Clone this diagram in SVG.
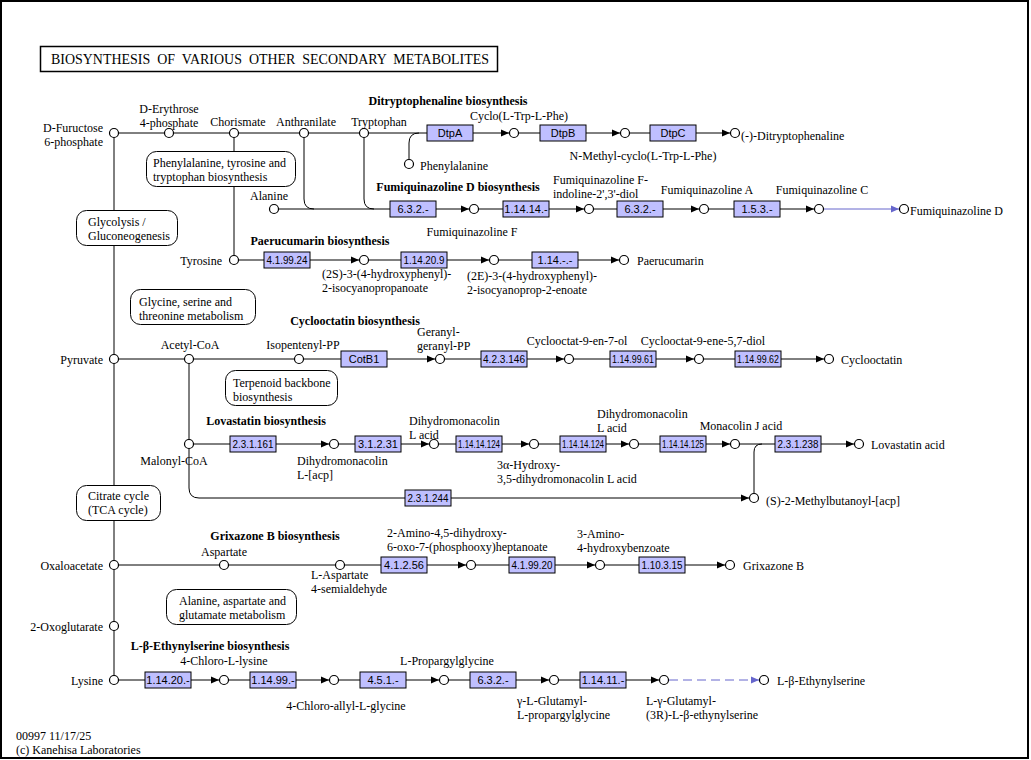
<svg xmlns="http://www.w3.org/2000/svg" width="1031" height="760" viewBox="0 0 1031 760">
<style>
.t{font-family:"Liberation Serif",serif;font-size:12px;fill:#000}
.b{font-family:"Liberation Serif",serif;font-size:12px;font-weight:bold;fill:#000}
.m{text-anchor:middle}
.r{text-anchor:end}
.ec{font-family:"Liberation Sans",Arial,sans-serif;font-size:11px;text-anchor:middle;fill:#000}
.e{fill:#bfbfff;stroke:#000;stroke-width:1}
.c{fill:#fff;stroke:#000;stroke-width:1.2}
.mp{fill:#fff;stroke:#000;stroke-width:1}
.ln{fill:none;stroke:#000;stroke-width:1}
.bl{fill:none;stroke:#6666cc;stroke-width:1}
.da{stroke-dasharray:9,5}
</style>
<defs>
<marker id="ar" markerUnits="userSpaceOnUse" markerWidth="8" markerHeight="8" refX="8" refY="4" orient="auto"><path d="M0,0.5 L8,4 L0,7.5 z" fill="#000"/></marker>
<marker id="ab" markerUnits="userSpaceOnUse" markerWidth="8" markerHeight="8" refX="8" refY="4" orient="auto"><path d="M0,0.5 L8,4 L0,7.5 z" fill="#6666cc"/></marker>
</defs>
<rect x="1" y="1" width="1027" height="757" fill="#fff" stroke="#000" stroke-width="2"/>
<g id="title"><rect x="40.5" y="46.5" width="457" height="25" fill="#fff" stroke="#000" stroke-width="1.5"/><text x="270" y="64" font-family="Liberation Serif,serif" font-size="14" text-anchor="middle" xml:space="preserve" style="white-space:pre" textLength="438" lengthAdjust="spacingAndGlyphs">BIOSYNTHESIS  OF  VARIOUS  OTHER  SECONDARY  METABOLITES</text></g>

<g id="connectors">
<path class="ln" d="M114,133 V680"/>
<path class="ln" d="M114,133 H427"/>
<path class="ln" marker-end="url(#ar)" d="M473,133 H509"/>
<path class="ln" d="M519,133 H540"/>
<path class="ln" marker-end="url(#ar)" d="M586,133 H620"/>
<path class="ln" d="M630,133 H650"/>
<path class="ln" marker-end="url(#ar)" d="M696,133 H730"/>
<path class="ln" d="M409,159 V143 Q409,133 419,133"/>
<path class="ln" d="M234,133 V256"/>
<path class="ln" d="M304,133 V199 Q304,209 314,209"/>
<path class="ln" d="M364,133 V199 Q364,209 374,209"/>
<path class="ln" d="M279,209 H390"/>
<path class="ln" marker-end="url(#ar)" d="M436,209 H469"/>
<path class="ln" d="M479,209 H503"/>
<path class="ln" marker-end="url(#ar)" d="M549,209 H584"/>
<path class="ln" d="M594,209 H617"/>
<path class="ln" marker-end="url(#ar)" d="M663,209 H699"/>
<path class="ln" d="M709,209 H734"/>
<path class="ln" marker-end="url(#ar)" d="M780,209 H814"/>
<path class="bl" marker-end="url(#ab)" d="M824,209 H899"/>
<path class="ln" d="M239,260 H264"/>
<path class="ln" marker-end="url(#ar)" d="M310,260 H359"/>
<path class="ln" d="M369,260 H401"/>
<path class="ln" marker-end="url(#ar)" d="M447,260 H489"/>
<path class="ln" d="M499,260 H532"/>
<path class="ln" marker-end="url(#ar)" d="M578,260 H619"/>
<path class="ln" d="M114,359 H341"/>
<path class="ln" marker-end="url(#ar)" d="M387,359 H435"/>
<path class="ln" d="M445,359 H481"/>
<path class="ln" marker-end="url(#ar)" d="M527,359 H564"/>
<path class="ln" d="M574,359 H610"/>
<path class="ln" marker-end="url(#ar)" d="M656,359 H694"/>
<path class="ln" d="M704,359 H735"/>
<path class="ln" marker-end="url(#ar)" d="M781,359 H824"/>
<path class="ln" marker-end="url(#ar)" d="M189,359 V488 Q189,498 199,498 H749"/>
<path class="ln" d="M189,444 H230"/>
<path class="ln" marker-end="url(#ar)" d="M276,444 H329"/>
<path class="ln" d="M339,444 H355"/>
<path class="ln" marker-end="url(#ar)" d="M401,444 H429"/>
<path class="ln" d="M439,444 H456"/>
<path class="ln" marker-end="url(#ar)" d="M502,444 H529"/>
<path class="ln" d="M539,444 H560"/>
<path class="ln" marker-end="url(#ar)" d="M606,444 H629"/>
<path class="ln" d="M639,444 H660"/>
<path class="ln" marker-end="url(#ar)" d="M706,444 H730"/>
<path class="ln" d="M740,444 H775"/>
<path class="ln" marker-end="url(#ar)" d="M821,444 H854"/>
<path class="ln" d="M754,493 V452 Q754,444 762,444"/>
<path class="ln" d="M114,565 H381"/>
<path class="ln" marker-end="url(#ar)" d="M427,565 H466"/>
<path class="ln" d="M476,565 H509"/>
<path class="ln" marker-end="url(#ar)" d="M555,565 H595"/>
<path class="ln" d="M605,565 H639"/>
<path class="ln" marker-end="url(#ar)" d="M685,565 H725"/>
<path class="ln" d="M114,680 H145"/>
<path class="ln" marker-end="url(#ar)" d="M191,680 H219"/>
<path class="ln" d="M229,680 H250"/>
<path class="ln" marker-end="url(#ar)" d="M296,680 H329"/>
<path class="ln" d="M339,680 H360"/>
<path class="ln" marker-end="url(#ar)" d="M406,680 H439"/>
<path class="ln" d="M449,680 H470"/>
<path class="ln" marker-end="url(#ar)" d="M516,680 H549"/>
<path class="ln" d="M559,680 H580"/>
<path class="ln" marker-end="url(#ar)" d="M626,680 H659"/>
<path class="bl da" marker-end="url(#ab)" d="M669,680 H759"/>
</g>

<g id="pathway-maps">
<g id="map-phe"><rect class="mp" x="146.5" y="151.5" width="149" height="35" rx="10"/><text class="t" x="153" y="167">Phenylalanine, tyrosine and<tspan x="153" dy="13.5">tryptophan biosynthesis</tspan></text></g>
<g id="map-gly"><rect class="mp" x="76.5" y="210.5" width="101" height="35" rx="10"/><text class="t" x="88" y="226">Glycolysis /<tspan x="88" dy="13.5">Gluconeogenesis</tspan></text></g>
<g id="map-gst"><rect class="mp" x="130.5" y="289.5" width="125" height="35" rx="10"/><text class="t" x="139" y="306">Glycine, serine and<tspan x="139" dy="13.5">threonine metabolism</tspan></text></g>
<g id="map-terp"><rect class="mp" x="225.5" y="370.5" width="112" height="35" rx="10"/><text class="t" x="233" y="387">Terpenoid backbone<tspan x="233" dy="13.5">biosynthesis</tspan></text></g>
<g id="map-tca"><rect class="mp" x="76.5" y="485.5" width="84" height="35" rx="10"/><text class="t" x="88" y="500">Citrate cycle<tspan x="88" dy="13.5">(TCA cycle)</tspan></text></g>
<g id="map-ala"><rect class="mp" x="166.5" y="589.5" width="130" height="35" rx="10"/><text class="t" x="179" y="605">Alanine, aspartate and<tspan x="179" dy="13.5">glutamate metabolism</tspan></text></g>
</g>

<g id="section-titles">
<text class="b m" x="448" y="105">Ditryptophenaline biosynthesis</text>
<text class="b m" x="458" y="191">Fumiquinazoline D biosynthesis</text>
<text class="b m" x="320" y="245">Paerucumarin biosynthesis</text>
<text class="b m" x="355" y="325">Cyclooctatin biosynthesis</text>
<text class="b m" x="266" y="425">Lovastatin biosynthesis</text>
<text class="b m" x="275" y="540">Grixazone B biosynthesis</text>
<text class="b m" x="210" y="650">L-β-Ethynylserine biosynthesis</text>
</g>

<g id="enzymes">
<g id="e-DtpA"><rect class="e" x="427" y="125" width="46" height="16"/><text class="ec" x="450" y="137">DtpA</text></g>
<g id="e-DtpB"><rect class="e" x="540" y="125" width="46" height="16"/><text class="ec" x="563" y="137">DtpB</text></g>
<g id="e-DtpC"><rect class="e" x="650" y="125" width="46" height="16"/><text class="ec" x="673" y="137">DtpC</text></g>
<g id="e-6.3.2.-a"><rect class="e" x="390" y="201" width="46" height="16"/><text class="ec" x="413" y="213">6.3.2.-</text></g>
<g id="e-1.14.14.-"><rect class="e" x="503" y="201" width="46" height="16"/><text class="ec" x="526" y="213">1.14.14.-</text></g>
<g id="e-6.3.2.-b"><rect class="e" x="617" y="201" width="46" height="16"/><text class="ec" x="640" y="213">6.3.2.-</text></g>
<g id="e-1.5.3.-"><rect class="e" x="734" y="201" width="46" height="16"/><text class="ec" x="757" y="213">1.5.3.-</text></g>
<g id="e-4.1.99.24"><rect class="e" x="264" y="252" width="46" height="16"/><text class="ec" x="287" y="264" textLength="41" lengthAdjust="spacingAndGlyphs">4.1.99.24</text></g>
<g id="e-1.14.20.9"><rect class="e" x="401" y="252" width="46" height="16"/><text class="ec" x="424" y="264" textLength="41" lengthAdjust="spacingAndGlyphs">1.14.20.9</text></g>
<g id="e-1.14.-.-"><rect class="e" x="532" y="252" width="46" height="16"/><text class="ec" x="555" y="264">1.14.-.-</text></g>
<g id="e-CotB1"><rect class="e" x="341" y="351" width="46" height="16"/><text class="ec" x="364" y="363">CotB1</text></g>
<g id="e-4.2.3.146"><rect class="e" x="481" y="351" width="46" height="16"/><text class="ec" x="504" y="363" textLength="42" lengthAdjust="spacingAndGlyphs">4.2.3.146</text></g>
<g id="e-1.14.99.61"><rect class="e" x="610" y="351" width="46" height="16"/><text class="ec" x="633" y="363" textLength="42" lengthAdjust="spacingAndGlyphs">1.14.99.61</text></g>
<g id="e-1.14.99.62"><rect class="e" x="735" y="351" width="46" height="16"/><text class="ec" x="758" y="363" textLength="42" lengthAdjust="spacingAndGlyphs">1.14.99.62</text></g>
<g id="e-2.3.1.161"><rect class="e" x="230" y="436" width="46" height="16"/><text class="ec" x="253" y="448" textLength="41" lengthAdjust="spacingAndGlyphs">2.3.1.161</text></g>
<g id="e-3.1.2.31"><rect class="e" x="355" y="436" width="46" height="16"/><text class="ec" x="378" y="448">3.1.2.31</text></g>
<g id="e-1.14.14.124a"><rect class="e" x="456" y="436" width="46" height="16"/><text class="ec" x="479" y="448" textLength="42" lengthAdjust="spacingAndGlyphs">1.14.14.124</text></g>
<g id="e-1.14.14.124b"><rect class="e" x="560" y="436" width="46" height="16"/><text class="ec" x="583" y="448" textLength="42" lengthAdjust="spacingAndGlyphs">1.14.14.124</text></g>
<g id="e-1.14.14.125"><rect class="e" x="660" y="436" width="46" height="16"/><text class="ec" x="683" y="448" textLength="42" lengthAdjust="spacingAndGlyphs">1.14.14.125</text></g>
<g id="e-2.3.1.238"><rect class="e" x="775" y="436" width="46" height="16"/><text class="ec" x="798" y="448" textLength="41" lengthAdjust="spacingAndGlyphs">2.3.1.238</text></g>
<g id="e-2.3.1.244"><rect class="e" x="405" y="490" width="46" height="16"/><text class="ec" x="428" y="502" textLength="41" lengthAdjust="spacingAndGlyphs">2.3.1.244</text></g>
<g id="e-4.1.2.56"><rect class="e" x="381" y="557" width="46" height="16"/><text class="ec" x="404" y="569">4.1.2.56</text></g>
<g id="e-4.1.99.20"><rect class="e" x="509" y="557" width="46" height="16"/><text class="ec" x="532" y="569" textLength="41" lengthAdjust="spacingAndGlyphs">4.1.99.20</text></g>
<g id="e-1.10.3.15"><rect class="e" x="639" y="557" width="46" height="16"/><text class="ec" x="662" y="569" textLength="41" lengthAdjust="spacingAndGlyphs">1.10.3.15</text></g>
<g id="e-1.14.20.-"><rect class="e" x="145" y="672" width="46" height="16"/><text class="ec" x="168" y="684">1.14.20.-</text></g>
<g id="e-1.14.99.-"><rect class="e" x="250" y="672" width="46" height="16"/><text class="ec" x="273" y="684">1.14.99.-</text></g>
<g id="e-4.5.1.-"><rect class="e" x="360" y="672" width="46" height="16"/><text class="ec" x="383" y="684">4.5.1.-</text></g>
<g id="e-6.3.2.-c"><rect class="e" x="470" y="672" width="46" height="16"/><text class="ec" x="493" y="684">6.3.2.-</text></g>
<g id="e-1.14.11.-"><rect class="e" x="580" y="672" width="46" height="16"/><text class="ec" x="603" y="684">1.14.11.-</text></g>
</g>

<g id="compounds">
<g id="c-fru6p"><circle class="c" cx="114" cy="133" r="4.5"/><text class="t r" x="103" y="132">D-Fuructose<tspan x="103" dy="13.5">6-phosphate</tspan></text></g>
<g id="c-e4p"><circle class="c" cx="169" cy="133" r="4.5"/><text class="t m" x="169" y="113">D-Erythrose<tspan x="169" dy="13.5">4-phosphate</tspan></text></g>
<g id="c-chorismate"><circle class="c" cx="234" cy="133" r="4.5"/><text class="t m" x="238" y="126">Chorismate</text></g>
<g id="c-anthranilate"><circle class="c" cx="304" cy="133" r="4.5"/><text class="t m" x="306" y="126">Anthranilate</text></g>
<g id="c-tryptophan"><circle class="c" cx="364" cy="133" r="4.5"/><text class="t m" x="379" y="126">Tryptophan</text></g>
<g id="c-cyclo"><circle class="c" cx="514" cy="133" r="4.5"/><text class="t m" x="519" y="120">Cyclo(L-Trp-L-Phe)</text></g>
<g id="c-nmethyl"><circle class="c" cx="625" cy="133" r="4.5"/><text class="t m" x="643" y="160">N-Methyl-cyclo(L-Trp-L-Phe)</text></g>
<g id="c-ditryp"><circle class="c" cx="735" cy="133" r="4.5"/><text class="t" x="741" y="140">(-)-Ditryptophenaline</text></g>
<g id="c-phenylalanine"><circle class="c" cx="409" cy="164" r="4.5"/><text class="t" x="420" y="170">Phenylalanine</text></g>
<g id="c-alanine"><circle class="c" cx="274" cy="209" r="4.5"/><text class="t m" x="269" y="200">Alanine</text></g>
<g id="c-fumiF"><circle class="c" cx="474" cy="209" r="4.5"/><text class="t m" x="472" y="236">Fumiquinazoline F</text></g>
<g id="c-fumiFdiol"><circle class="c" cx="589" cy="209" r="4.5"/><text class="t" x="553" y="184">Fumiquinazoline F-<tspan x="553" dy="13.5">indoline-2',3'-diol</tspan></text></g>
<g id="c-fumiA"><circle class="c" cx="704" cy="209" r="4.5"/><text class="t m" x="707" y="194">Fumiquinazoline A</text></g>
<g id="c-fumiC"><circle class="c" cx="819" cy="209" r="4.5"/><text class="t m" x="822" y="194">Fumiquinazoline C</text></g>
<g id="c-fumiD"><circle class="c" cx="904" cy="209" r="4.5"/><text class="t" x="910" y="215">Fumiquinazoline D</text></g>
<g id="c-tyrosine"><circle class="c" cx="234" cy="260" r="4.5"/><text class="t r" x="222" y="265">Tyrosine</text></g>
<g id="c-2s"><circle class="c" cx="364" cy="260" r="4.5"/><text class="t" x="322" y="278">(2S)-3-(4-hydroxyphenyl)-<tspan x="322" dy="13.5">2-isocyanopropanoate</tspan></text></g>
<g id="c-2e"><circle class="c" cx="494" cy="260" r="4.5"/><text class="t" x="467" y="280">(2E)-3-(4-hydroxyphenyl)-<tspan x="467" dy="13.5">2-isocyanoprop-2-enoate</tspan></text></g>
<g id="c-paerucumarin"><circle class="c" cx="624" cy="260" r="4.5"/><text class="t" x="637" y="265">Paerucumarin</text></g>
<g id="c-pyruvate"><circle class="c" cx="114" cy="359" r="4.5"/><text class="t r" x="103" y="364">Pyruvate</text></g>
<g id="c-acetylcoa"><circle class="c" cx="189" cy="359" r="4.5"/><text class="t m" x="190" y="349">Acetyl-CoA</text></g>
<g id="c-ipp"><circle class="c" cx="299" cy="359" r="4.5"/><text class="t m" x="303" y="349">Isopentenyl-PP</text></g>
<g id="c-ggpp"><circle class="c" cx="440" cy="359" r="4.5"/><text class="t" x="417" y="336">Geranyl-<tspan x="417" dy="13.5">geranyl-PP</tspan></text></g>
<g id="c-cyc7ol"><circle class="c" cx="569" cy="359" r="4.5"/><text class="t m" x="577" y="345">Cyclooctat-9-en-7-ol</text></g>
<g id="c-cycdiol"><circle class="c" cx="699" cy="359" r="4.5"/><text class="t m" x="703" y="345">Cyclooctat-9-ene-5,7-diol</text></g>
<g id="c-cyclooctatin"><circle class="c" cx="829" cy="359" r="4.5"/><text class="t" x="841" y="364">Cyclooctatin</text></g>
<g id="c-malonylcoa"><circle class="c" cx="189" cy="444" r="4.5"/><text class="t m" x="174" y="465">Malonyl-CoA</text></g>
<g id="c-dhmlacp"><circle class="c" cx="334" cy="444" r="4.5"/><text class="t" x="297" y="465">Dihydromonacolin<tspan x="297" dy="13.5">L-[acp]</tspan></text></g>
<g id="c-dhmla1"><circle class="c" cx="434" cy="444" r="4.5"/><text class="t" x="409" y="425">Dihydromonacolin<tspan x="409" dy="13.5">L acid</tspan></text></g>
<g id="c-3ahydroxy"><circle class="c" cx="534" cy="444" r="4.5"/><text class="t" x="497" y="469">3α-Hydroxy-<tspan x="497" dy="13.5">3,5-dihydromonacolin L acid</tspan></text></g>
<g id="c-dhmla2"><circle class="c" cx="634" cy="444" r="4.5"/><text class="t" x="597" y="418">Dihydromonacolin<tspan x="597" dy="13.5">L acid</tspan></text></g>
<g id="c-monacolinj"><circle class="c" cx="735" cy="444" r="4.5"/><text class="t m" x="741" y="430">Monacolin J acid</text></g>
<g id="c-lovastatin"><circle class="c" cx="859" cy="444" r="4.5"/><text class="t" x="871" y="449">Lovastatin acid</text></g>
<g id="c-s2mb"><circle class="c" cx="754" cy="498" r="4.5"/><text class="t" x="766" y="505">(S)-2-Methylbutanoyl-[acp]</text></g>
<g id="c-oxaloacetate"><circle class="c" cx="114" cy="565" r="4.5"/><text class="t r" x="103" y="570">Oxaloacetate</text></g>
<g id="c-aspartate"><circle class="c" cx="224" cy="565" r="4.5"/><text class="t m" x="224" y="556">Aspartate</text></g>
<g id="c-lasa"><circle class="c" cx="340" cy="565" r="4.5"/><text class="t" x="311" y="579">L-Aspartate<tspan x="311" dy="13.5">4-semialdehyde</tspan></text></g>
<g id="c-amino"><circle class="c" cx="471" cy="565" r="4.5"/><text class="t" x="387" y="537">2-Amino-4,5-dihydroxy-<tspan x="387" dy="13.5">6-oxo-7-(phosphooxy)heptanoate</tspan></text></g>
<g id="c-3a4hb"><circle class="c" cx="600" cy="565" r="4.5"/><text class="t" x="577" y="538">3-Amino-<tspan x="577" dy="13.5">4-hydroxybenzoate</tspan></text></g>
<g id="c-grixazone"><circle class="c" cx="730" cy="565" r="4.5"/><text class="t" x="743" y="570">Grixazone B</text></g>
<g id="c-2og"><circle class="c" cx="114" cy="626" r="4.5"/><text class="t r" x="103" y="631">2-Oxoglutarate</text></g>
<g id="c-lysine"><circle class="c" cx="114" cy="680" r="4.5"/><text class="t r" x="103" y="685">Lysine</text></g>
<g id="c-4cll"><circle class="c" cx="224" cy="680" r="4.5"/><text class="t m" x="224" y="665">4-Chloro-L-lysine</text></g>
<g id="c-4callg"><circle class="c" cx="334" cy="680" r="4.5"/><text class="t m" x="346" y="710">4-Chloro-allyl-L-glycine</text></g>
<g id="c-lpg"><circle class="c" cx="444" cy="680" r="4.5"/><text class="t m" x="447" y="665">L-Propargylglycine</text></g>
<g id="c-glpg"><circle class="c" cx="554" cy="680" r="4.5"/><text class="t" x="517" y="705">γ-L-Glutamyl-<tspan x="517" dy="13.5">L-propargylglycine</tspan></text></g>
<g id="c-glbe"><circle class="c" cx="664" cy="680" r="4.5"/><text class="t" x="646" y="705">L-γ-Glutamyl-<tspan x="646" dy="13.5">(3R)-L-β-ethynylserine</tspan></text></g>
<g id="c-lbe"><circle class="c" cx="764" cy="680" r="4.5"/><text class="t" x="777" y="685">L-β-Ethynylserine</text></g>
</g>

<g id="footer"><text class="t" x="16" y="740">00997 11/17/25<tspan x="16" dy="13.5">(c) Kanehisa Laboratories</tspan></text></g>
</svg>
